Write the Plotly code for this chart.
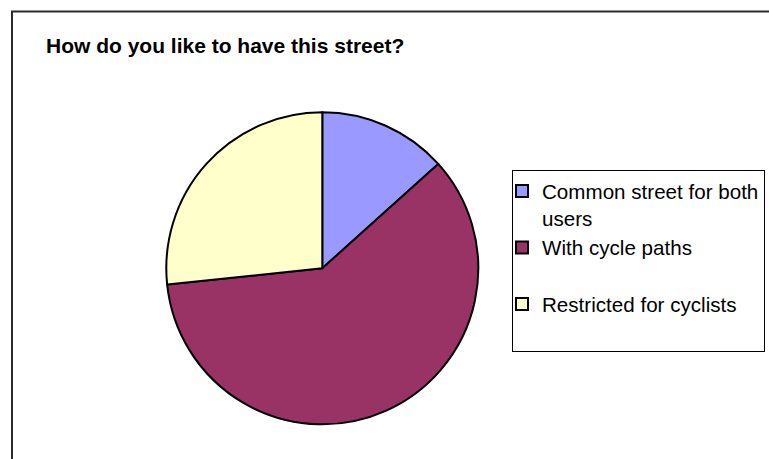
import plotly.graph_objects as go

labels = ["Common street for both<br>users", "With cycle paths<br> ", "Restricted for cyclists<br> "]
values = [2, 9, 4]
colors = ["#9999FF", "#993366", "#FFFFCC"]
title_text = "How do you like to have this street?"

W, H = 769, 459
cx, cy, r = 322.3, 268.3, 156

fig = go.Figure(go.Pie(
    labels=labels,
    values=values,
    sort=False,
    direction="clockwise",
    rotation=0,
    textinfo="none",
    hoverinfo="label+percent",
    marker=dict(colors=colors, line=dict(color="#000000", width=2)),
    domain=dict(x=[(cx - r) / W, (cx + r) / W], y=[(H - cy - r) / H, (H - cy + r) / H]),
))

fig.update_layout(
    width=W, height=H,
    margin=dict(l=0, r=0, t=0, b=0, autoexpand=False),
    paper_bgcolor="white",
    font=dict(family="Liberation Sans, Arial, sans-serif", color="#000000"),
    title=dict(text="<b>" + title_text + "</b>", x=46 / W, xanchor="left", xref="paper",
               y=1 - 46 / H, yanchor="middle", yref="container",
               font=dict(size=21, family="Liberation Sans, Arial, sans-serif", color="#000000")),
    legend=dict(x=512 / W, xanchor="left", y=1 - 170 / H, yanchor="top",
                xref="container", yref="container",
                bordercolor="#000000", borderwidth=1, bgcolor="white",
                indentation=-11, entrywidth=260, entrywidthmode="pixels",
                font=dict(size=20.6, family="Liberation Sans, Arial, sans-serif", color="#000000"),
                valign="top", traceorder="normal"),
    showlegend=True,
    shapes=[dict(type="rect", xref="paper", yref="paper",
                 x0=12 / W, x1=1.05, y0=-0.05, y1=1 - 11.5 / H,
                 line=dict(color="#2b2b2b", width=2), fillcolor="rgba(0,0,0,0)", layer="below")],
)

fig.write_html("out.html")
